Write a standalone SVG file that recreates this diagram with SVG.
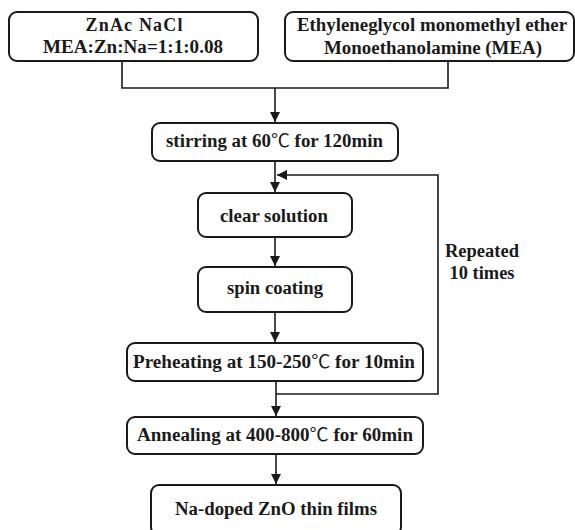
<svg xmlns="http://www.w3.org/2000/svg" width="575" height="530" viewBox="0 0 575 530">
<style>
.box{fill:#fff;stroke:#1a1a1a;stroke-width:2}
.t{font-family:"Liberation Serif","DejaVu Serif",serif;font-weight:bold;font-size:18px;fill:#1a1a1a;text-anchor:middle}
.c{font-family:"Noto Sans CJK SC",sans-serif;font-weight:normal}
.ln{fill:none;stroke:#1a1a1a;stroke-width:1.6}
</style>
<defs>
<marker id="ah" markerWidth="10" markerHeight="13" refX="10" refY="6.5" orient="auto" markerUnits="userSpaceOnUse">
<path d="M0,1.5 L10,6.5 L0,11.5 Z" fill="#1a1a1a"/>
</marker>
</defs>
<rect width="575" height="530" fill="#fff"/>
<g id="connectors">
<polyline class="ln" points="122,61 122,88 448,88 448,61"/>
<line class="ln" x1="275" y1="88" x2="275" y2="122" marker-end="url(#ah)"/>
<line class="ln" x1="275" y1="161" x2="275" y2="192" marker-end="url(#ah)"/>
<polyline class="ln" points="276,394 438,394 438,175 277,175" marker-end="url(#ah)"/>
<line class="ln" x1="275" y1="237" x2="275" y2="266" marker-end="url(#ah)"/>
<line class="ln" x1="275" y1="312" x2="275" y2="342" marker-end="url(#ah)"/>
<line class="ln" x1="276" y1="381" x2="276" y2="416" marker-end="url(#ah)"/>
<line class="ln" x1="276" y1="454" x2="276" y2="484" marker-end="url(#ah)"/>
</g>
<g id="n1">
<rect class="box" x="9" y="12" width="249" height="49" rx="8"/>
<text class="t" x="134" y="31" textLength="97" lengthAdjust="spacing">ZnAc NaCl</text>
<text class="t" x="133" y="53" textLength="180" lengthAdjust="spacingAndGlyphs">MEA:Zn:Na=1:1:0.08</text>
</g>
<g id="n2">
<rect class="box" x="285" y="12" width="289" height="49" rx="8"/>
<text class="t" x="432" y="31" textLength="270" lengthAdjust="spacingAndGlyphs">Ethyleneglycol monomethyl ether</text>
<text class="t" x="433" y="54" textLength="218" lengthAdjust="spacingAndGlyphs">Monoethanolamine (MEA)</text>
</g>
<g id="n3">
<rect class="box" x="152" y="123" width="246" height="38" rx="8"/>
<text class="t" x="274.5" y="147" textLength="217" lengthAdjust="spacingAndGlyphs">stirring at 60<tspan class="c">℃</tspan> for 120min</text>
</g>
<g id="n4">
<rect class="box" x="198" y="193" width="154" height="44" rx="8"/>
<text class="t" x="274" y="222" textLength="108" lengthAdjust="spacingAndGlyphs">clear solution</text>
</g>
<g id="n5">
<rect class="box" x="198" y="267" width="154" height="45" rx="8"/>
<text class="t" x="275" y="294" textLength="96" lengthAdjust="spacingAndGlyphs">spin coating</text>
</g>
<g id="n6">
<rect class="box" x="127" y="343" width="296" height="38" rx="8"/>
<text class="t" x="274" y="368" textLength="282" lengthAdjust="spacingAndGlyphs">Preheating at 150-250<tspan class="c">℃</tspan> for 10min</text>
</g>
<g id="n7">
<rect class="box" x="127" y="417" width="296" height="37" rx="8"/>
<text class="t" x="275" y="441" textLength="276" lengthAdjust="spacingAndGlyphs">Annealing at 400-800<tspan class="c">℃</tspan> for 60min</text>
</g>
<g id="n8">
<rect class="box" x="151" y="485" width="250" height="50" rx="8"/>
<text class="t" x="276" y="515" textLength="202" lengthAdjust="spacingAndGlyphs">Na-doped ZnO thin films</text>
</g>
<g id="loop-label">
<text class="t" x="482" y="257" textLength="74" lengthAdjust="spacingAndGlyphs">Repeated</text>
<text class="t" x="482" y="279" textLength="65" lengthAdjust="spacingAndGlyphs">10 times</text>
</g>
</svg>
